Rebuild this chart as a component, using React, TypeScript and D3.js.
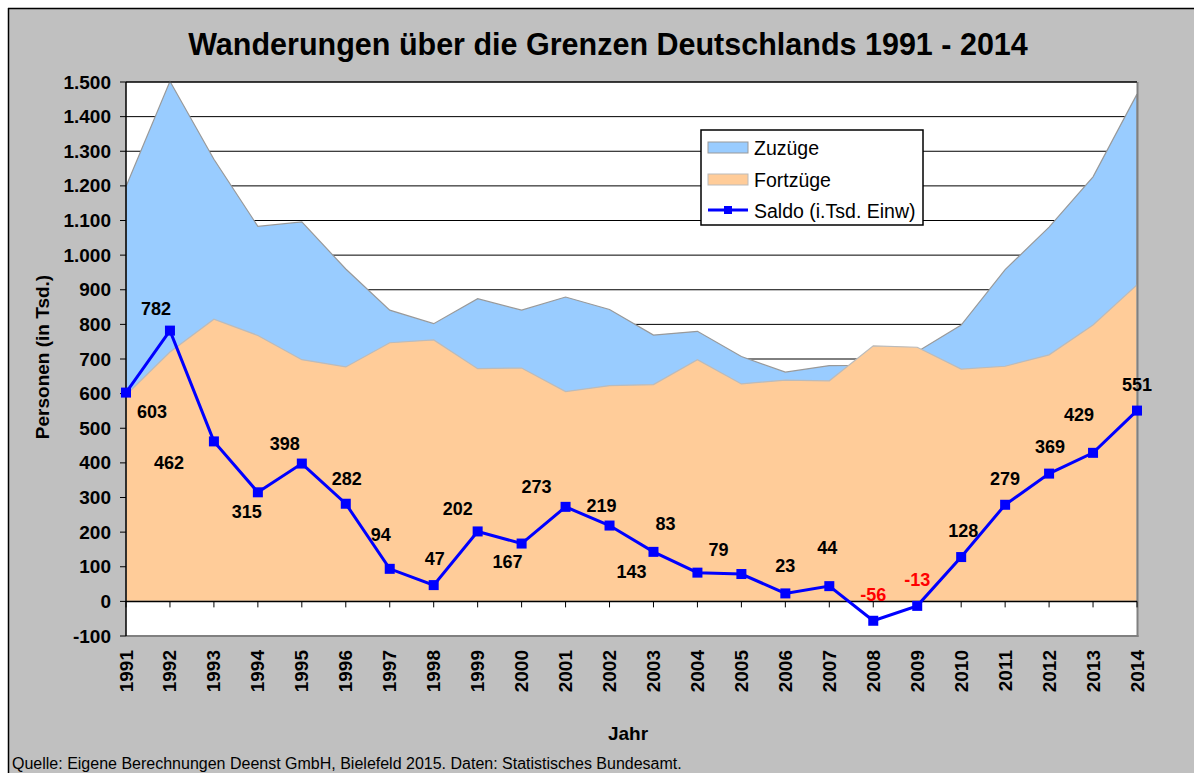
import React from "react";
import * as d3 from "d3";

const years = [1991,1992,1993,1994,1995,1996,1997,1998,1999,2000,2001,2002,2003,2004,2005,2006,2007,2008,2009,2010,2011,2012,2013,2014];
const zuzuege = [1198,1502,1277,1083,1096,960,841,802,874,841,879,843,769,780,707,662,681,682,721,798,958,1081,1226,1465];
const fortzuege = [596,720,815,768,698,677,747,755,672,674,606,623,626,698,628,639,637,738,734,671,679,712,798,914];
const saldo = [603,782,462,315,398,282,94,47,202,167,273,219,143,83,79,23,44,-56,-13,128,279,369,429,551];
const yTicks = [-100,0,100,200,300,400,500,600,700,800,900,1000,1100,1200,1300,1400,1500];
// label placement relative to marker (pixels): [dx, dy]
const labelOffsets: [number, number][] = [
  [26,19],[-14,-22],[-45,22],[-11,20],[-17,-20],[1,-25],[-9,-34],[1,-26],[-20,-22],[-14,18],
  [-29,-20],[-8,-20],[-22,20],[-32,-49],[-23,-24],[0,-27],[-2,-38],[0,-26],[0,-26],[2,-26],
  [0,-26],[1,-27],[-14,-38],[0,-26]
];

const W = 1194, H = 773;
const left = 126, right = 1137, top = 82, bottom = 636;
const FONT = "'Liberation Sans', Arial, sans-serif";

const fmt = (v: number) => {
  const s = Math.abs(v).toString();
  const withDots = s.replace(/\B(?=(\d{3})+(?!\d))/g, ".");
  return (v < 0 ? "-" : "") + withDots;
};

export default function App() {
  const x = d3.scalePoint<number>().domain(years).range([left, right]);
  const y = d3.scaleLinear().domain([-100, 1500]).range([bottom, top]);

  const areaZ = d3.area<number>().x((_, i) => x(years[i])!).y0(y(0)).y1((d) => y(d));
  const lineFn = d3.line<number>().x((_, i) => x(years[i])!).y((d) => y(d));

  return (
    <div style={{ position: "absolute", left: 0, top: 0 }}>
      <svg width={W} height={H} style={{ display: "block" }} fontFamily={FONT}>
        <rect x={0} y={0} width={W} height={H} fill="#ffffff" />
        <rect x={8} y={8} width={W - 8} height={H - 8} fill="#c0c0c0" />
        <line x1={8} y1={8.5} x2={W} y2={8.5} stroke="#000" strokeWidth={1.5} />
        <line x1={8.5} y1={8} x2={8.5} y2={H} stroke="#000" strokeWidth={1.5} />

        <text x={608} y={55} textAnchor="middle" fontSize={30.5} fontWeight="bold">
          Wanderungen über die Grenzen Deutschlands 1991 - 2014
        </text>

        {/* plot area */}
        <rect x={left} y={top} width={right - left} height={bottom - top} fill="#ffffff" />
        {yTicks.filter((t) => t > 0).map((t) => (
          <line key={t} x1={left} x2={right} y1={y(t)} y2={y(t)} stroke="#000" strokeWidth={1} />
        ))}

        <path d={areaZ(zuzuege) || ""} fill="#99ccff" stroke="#999999" strokeWidth={1.2} />
        <path d={areaZ(fortzuege) || ""} fill="#ffcc99" stroke="#bbbbbb" strokeWidth={1.2} />

        {/* plot border right/bottom */}
        <line x1={right + 0.5} x2={right + 0.5} y1={top} y2={bottom + 1} stroke="#808080" strokeWidth={2} />
        <line x1={left} x2={right + 1.5} y1={bottom} y2={bottom} stroke="#808080" strokeWidth={2} />
        <line x1={left} x2={right} y1={top} y2={top} stroke="#000" strokeWidth={1} />

        {/* y axis */}
        <line x1={left} x2={left} y1={top} y2={bottom} stroke="#000" strokeWidth={1.5} />
        {yTicks.map((t) => (
          <g key={t}>
            <line x1={left - 6} x2={left} y1={y(t)} y2={y(t)} stroke="#000" strokeWidth={1} />
            <text x={111} y={y(t)} dominantBaseline="central" textAnchor="end" fontSize={19} fontWeight="bold">
              {fmt(t)}
            </text>
          </g>
        ))}
        <text transform={`translate(42, 357) rotate(-90)`} textAnchor="middle" dominantBaseline="central" fontSize={19} fontWeight="bold">
          Personen (in Tsd.)
        </text>

        {/* x axis at zero */}
        <line x1={left} x2={right} y1={y(0)} y2={y(0)} stroke="#000" strokeWidth={1.5} />
        {years.map((yr) => (
          <g key={yr}>
            <line x1={x(yr)} x2={x(yr)} y1={y(0)} y2={y(0) + 6} stroke="#000" strokeWidth={1} />
            <text transform={`translate(${x(yr)}, 650) rotate(-90)`} textAnchor="end" dominantBaseline="central" fontSize={19} fontWeight="bold">
              {yr}
            </text>
          </g>
        ))}
        <text x={628} y={740} textAnchor="middle" fontSize={19} fontWeight="bold">Jahr</text>

        {/* saldo line */}
        <path d={lineFn(saldo) || ""} fill="none" stroke="#0000ff" strokeWidth={3} />
        {saldo.map((v, i) => (
          <rect key={i} x={x(years[i])! - 5} y={y(v) - 5} width={10} height={10} fill="#0000ff" />
        ))}
        {saldo.map((v, i) => (
          <text key={"l" + i} x={x(years[i])! + labelOffsets[i][0]} y={y(v) + labelOffsets[i][1]}
            textAnchor="middle" dominantBaseline="central" fontSize={18} fontWeight="bold"
            fill={v < 0 ? "#ff0000" : "#000000"}>
            {fmt(v)}
          </text>
        ))}

        {/* legend */}
        <rect x={701} y={130} width={222} height={95} fill="#ffffff" stroke="#000" strokeWidth={1.5} />
        <rect x={708} y={142} width={40} height={11} fill="#99ccff" stroke="#999999" strokeWidth={1} />
        <text x={754} y={148} dominantBaseline="central" fontSize={19.5}>Zuzüge</text>
        <rect x={708} y={174} width={40} height={11} fill="#ffcc99" stroke="#bbbbbb" strokeWidth={1} />
        <text x={754} y={180} dominantBaseline="central" fontSize={19.5}>Fortzüge</text>
        <line x1={708} x2={748} y1={210} y2={210} stroke="#0000ff" strokeWidth={3} />
        <rect x={724} y={206} width={8} height={8} fill="#0000ff" />
        <text x={754} y={211} dominantBaseline="central" fontSize={19.5}>Saldo (i.Tsd. Einw)</text>

        <text x={12} y={769} fontSize={16}>
          Quelle: Eigene Berechnungen Deenst GmbH, Bielefeld 2015. Daten: Statistisches Bundesamt.
        </text>
      </svg>
    </div>
  );
}
